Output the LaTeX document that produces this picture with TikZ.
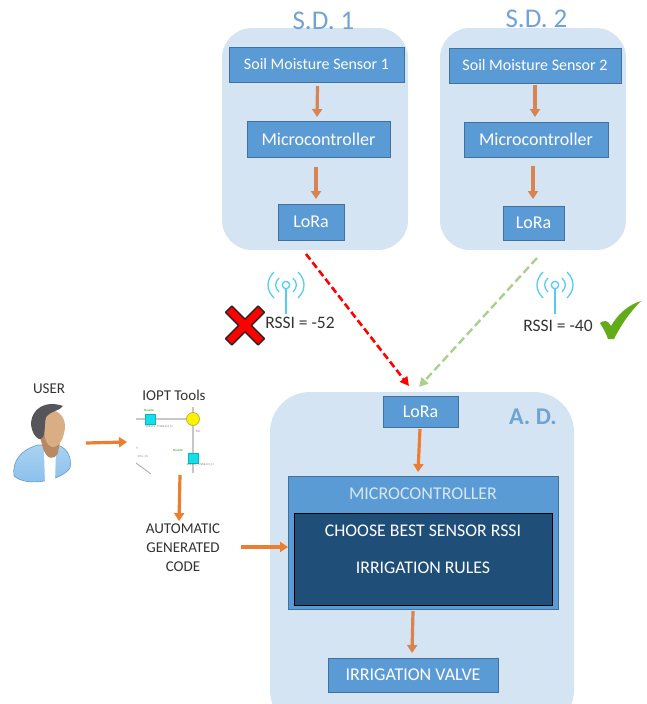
\documentclass[tikz,border=0pt]{standalone}
\usepackage{fontspec}
\setmainfont{Carlito}
\usetikzlibrary{arrows.meta}
\definecolor{pale}{HTML}{D5E4F3}
\definecolor{midblue}{HTML}{5B9BD5}
\definecolor{edgeblue}{HTML}{41719C}
\definecolor{darkblue}{HTML}{1F4E79}
\definecolor{arrowor}{HTML}{D9844F}
\definecolor{brightor}{HTML}{ED7D31}
\definecolor{titleblue}{HTML}{6FA3D6}
\definecolor{wifi}{HTML}{55CCF5}
\definecolor{softgreen}{HTML}{A9D18E}
\definecolor{modcyan}{HTML}{10E0EA}
\definecolor{checkgreen}{HTML}{62AC1A}
\definecolor{skin}{HTML}{B98A62}
\definecolor{skinlight}{HTML}{D9AE85}
\definecolor{hair}{HTML}{55555A}
\definecolor{shirt}{HTML}{86BEEB}
\definecolor{shirtedge}{HTML}{5E9BD4}
\tikzset{
  x=1pt,y=-1pt,
  every node/.style={inner sep=0pt,outer sep=0pt,text=black!80},
  panel/.style={fill=pale,rounded corners=30pt},
  blk/.style={draw=edgeblue,line width=0.8pt,fill=midblue,text=white,font=\fontsize{18}{18}\selectfont},
  oflow/.style={draw=arrowor,line width=3.2pt,-{Triangle[length=8pt,width=10pt]}},
  bflow/.style={oflow,draw=brightor},
  ttl/.style={text=titleblue,font=\fontsize{27}{27}\selectfont},
  lbl/.style={font=\fontsize{15}{16}\selectfont,align=center},
  rssi/.style={font=\fontsize{17.5}{18}\selectfont},
  grayline/.style={draw=black!22,line width=1.5pt},
  mod/.style={fill=modcyan,draw=modcyan!80!black,line width=0.3pt,minimum size=10pt},
  tiny/.style={font=\fontsize{3}{3}\selectfont},
  antenna/.style={draw=wifi,line width=1.3pt}
}
\begin{document}
\begin{tikzpicture}
\useasboundingbox (0,0) rectangle (647,704);
% panels
\begin{scope}
\clip (0,0) rectangle (647,704);
\fill[panel] (222,28) rectangle (408,250);
\fill[panel] (440,28) rectangle (626,250);
\fill[panel,rounded corners=40pt] (270,392) rectangle (574,730);
\end{scope}
\node[ttl] (t1) at (323.5,21) {S.D. 1};
\node[ttl] (t2) at (536.5,19) {S.D. 2};
\node[ttl,font=\fontsize{24}{24}\selectfont\bfseries] (t3) at (533,417) {A. D.};
% S.D. 1
\node[blk,minimum width=175pt,minimum height=35pt,font=\fontsize{16}{16}\selectfont] (s1) at (316.5,64.5) {Soil Moisture Sensor 1};
\node[blk,minimum width=143pt,minimum height=36pt] (m1) at (318.5,139) {Microcontroller};
\node[blk,minimum width=66pt,minimum height=36pt] (l1) at (311,222) {LoRa};
% S.D. 2
\node[blk,minimum width=172pt,minimum height=35pt,font=\fontsize{16}{16}\selectfont] (s2) at (535,65.5) {Soil Moisture Sensor 2};
\node[blk,minimum width=144pt,minimum height=35pt] (m2) at (536,139.5) {Microcontroller};
\node[blk,minimum width=61pt,minimum height=34pt] (l2) at (533.5,223) {LoRa};
% A. D.
\node[blk,minimum width=75pt,minimum height=31pt] (l3) at (420.5,411.5) {LoRa};
\node[blk,minimum width=270pt,minimum height=133pt] (m3) at (423,542.5) {};
\node[text=white!75!midblue,font=\fontsize{18}{18}\selectfont] (m3t) at (423,494) {MICROCONTROLLER};
\node[draw=black,line width=1pt,fill=darkblue,minimum width=258pt,minimum height=92pt] (rules) at (423,559) {};
\node[text=white,font=\fontsize{17.8}{18}\selectfont] (r1) at (423,531) {CHOOSE BEST SENSOR RSSI};
\node[text=white,font=\fontsize{17.8}{18}\selectfont] (r2) at (423,568) {IRRIGATION RULES};
\node[blk,minimum width=170pt,minimum height=34pt] (v) at (413,675) {IRRIGATION VALVE};
% flow arrows
\draw[oflow] ([xshift=1pt,yshift=-4pt]s1.south) -- ([xshift=-1.5pt,yshift=4pt]m1.north);
\draw[oflow] ([xshift=-2.5pt,yshift=-9.5pt]m1.south) -- ([xshift=5pt,yshift=5pt]l1.north);
\draw[oflow] ([xshift=0pt,yshift=-2pt]s2.south) -- ([xshift=-1pt,yshift=5pt]m2.north);
\draw[oflow] ([xshift=-3pt,yshift=-9pt]m2.south) -- ([xshift=-0.5pt,yshift=7pt]l2.north);
\draw[bflow] ([xshift=-0.5pt,yshift=-2pt]l3.south) -- ([xshift=-5pt,yshift=4pt]m3.north);
\draw[oflow] ([xshift=-10pt,yshift=-2pt]m3.south) -- ([xshift=-1pt,yshift=5pt]v.north);
% radio links
\coordinate (hit) at (409,386); \coordinate (hit2) at (419,387);
\coordinate (rs) at (306,254); \coordinate (gs) at (537,258);
\draw[red,line width=2.6pt,dash pattern=on 7pt off 3.5pt,-{Triangle[length=9pt,width=9pt]}] (rs) -- (hit);
\draw[softgreen,line width=2.4pt,dash pattern=on 8pt off 4pt,-{Triangle[length=9pt,width=9pt]}] (gs) -- (hit2);
% antennas
\foreach \cx/\cy in {286/285,555/285}{
  \begin{scope}[shift={(\cx,\cy)}]
    \draw[antenna,fill=white] (0,0) circle (3.7pt);
    \draw[antenna] (0,3.7) -- (0,29);
    \draw[antenna] (-7,-7) .. controls (-11.5,-2.5) and (-11.5,2.5) .. (-7,7);
    \draw[antenna] (7,-7) .. controls (11.5,-2.5) and (11.5,2.5) .. (7,7);
    \draw[antenna] (-12,-13) .. controls (-20,-5) and (-20,5) .. (-12,13);
    \draw[antenna] (12,-13) .. controls (20,-5) and (20,5) .. (12,13);
  \end{scope}
}
\node[rssi] (rssi1) at (300,323) {RSSI = -52};
\node[rssi] (rssi2) at (558,326) {RSSI = -40};
% red cross
\fill[red,draw=black!85,line width=1.4pt,line join=round,shift={(245,325.5)},rotate=45]
  (-4.5,-23) -- (4.5,-23) -- (4.5,-4.5) -- (23,-4.5) -- (23,4.5) -- (4.5,4.5) -- (4.5,23) -- (-4.5,23) -- (-4.5,4.5) -- (-23,4.5) -- (-23,-4.5) -- (-4.5,-4.5) -- cycle;
% check
\fill[checkgreen] (600,323) .. controls (604,320) and (608,320) .. (611,326) .. controls (618,314) and (628,305) .. (641,301)
  .. controls (630,312) and (621,325) .. (614,339) -- (608,339) .. controls (606,333) and (603,328) .. (600,323) -- cycle;
% user
\node[lbl] (user) at (49,389) {USER};
\path[top color=shirt!70!white,bottom color=shirt,draw=shirtedge,line width=0.6pt]
  (14,476) .. controls (12,462) and (20,450) .. (38,445) -- (58,445) .. controls (68,449) and (72,458) .. (70,468)
  .. controls (62,480) and (28,488) .. (14,476) -- cycle;
\fill[white] (44,452) -- (56,450) -- (55,483) -- (45,483) -- cycle;
\fill[skin] (38,430) -- (62,430) -- (58,453) .. controls (53,462) and (46,458) .. (43,448) -- cycle;
\fill[skinlight] (42,412) .. controls (52,407) and (64,412) .. (65,425) .. controls (65,436) and (60,448) .. (52,447) .. controls (46,446) and (44,438) .. (42,412) -- cycle;
\fill[hair] (31,425) .. controls (31,408) and (46,400) .. (63,406) .. controls (60,411) and (50,411) .. (46,417) .. controls (44,424) and (46,430) .. (43,437) .. controls (41,442) and (33,438) .. (31,425) -- cycle;
% user arrows
\coordinate (u1) at (86,443); \coordinate (u2) at (127,442);
\draw[bflow] (u1) -- (u2);
\node[lbl] (iopt) at (174,395) {IOPT Tools};
% IOPT net
\coordinate (n0) at (136,419); \coordinate (n1) at (193,419);
\coordinate (n2) at (193,473);
\coordinate (d1) at (136,463); \coordinate (d2) at (151,474);
\draw[grayline] (n0) -- (n1);
\draw[grayline] (193,407) -- (n2);
\draw[black!35,line width=0.8pt] (d1) -- (d2);
\node[mod] (p1) at (150,419) {};
\node[mod] (p2) at (193,458) {};
\node[circle,fill=yellow,draw=black!30!yellow,line width=0.8pt,minimum size=13pt] (tr) at (193,419) {};
\node[tiny,text=green!60!black] (g1) at (149,410) {Mouldin};
\node[tiny,text=green!60!black] (g2) at (178,450) {Mouldin};
\node[tiny,text=black!55] (g3) at (159,427) {SOIL.D1\_T=SOIL.D1\_H};
\node[tiny,text=black!55] (g4) at (200,465) {SOIL.D1\_T=SOIL.D1\_H};
\node[tiny,text=red!70] (g5) at (198,431) {Fail};
\node[tiny,text=black!45] (g6) at (143,457) {SOIL\_D1};
\node[tiny,text=green!60!black] (g7) at (137,449) {T};
% code
\coordinate (i1) at (180,475);
\node[lbl] (code) at (183,548) {AUTOMATIC\\[3pt]GENERATED\\[3pt]CODE};
\draw[bflow] (i1) -- ([xshift=-4pt,yshift=3pt]code.north);
\draw[bflow] ([xshift=21pt,yshift=1pt]code.east) -- ([yshift=-4.5pt]m3.west);
\end{tikzpicture}
\end{document}
